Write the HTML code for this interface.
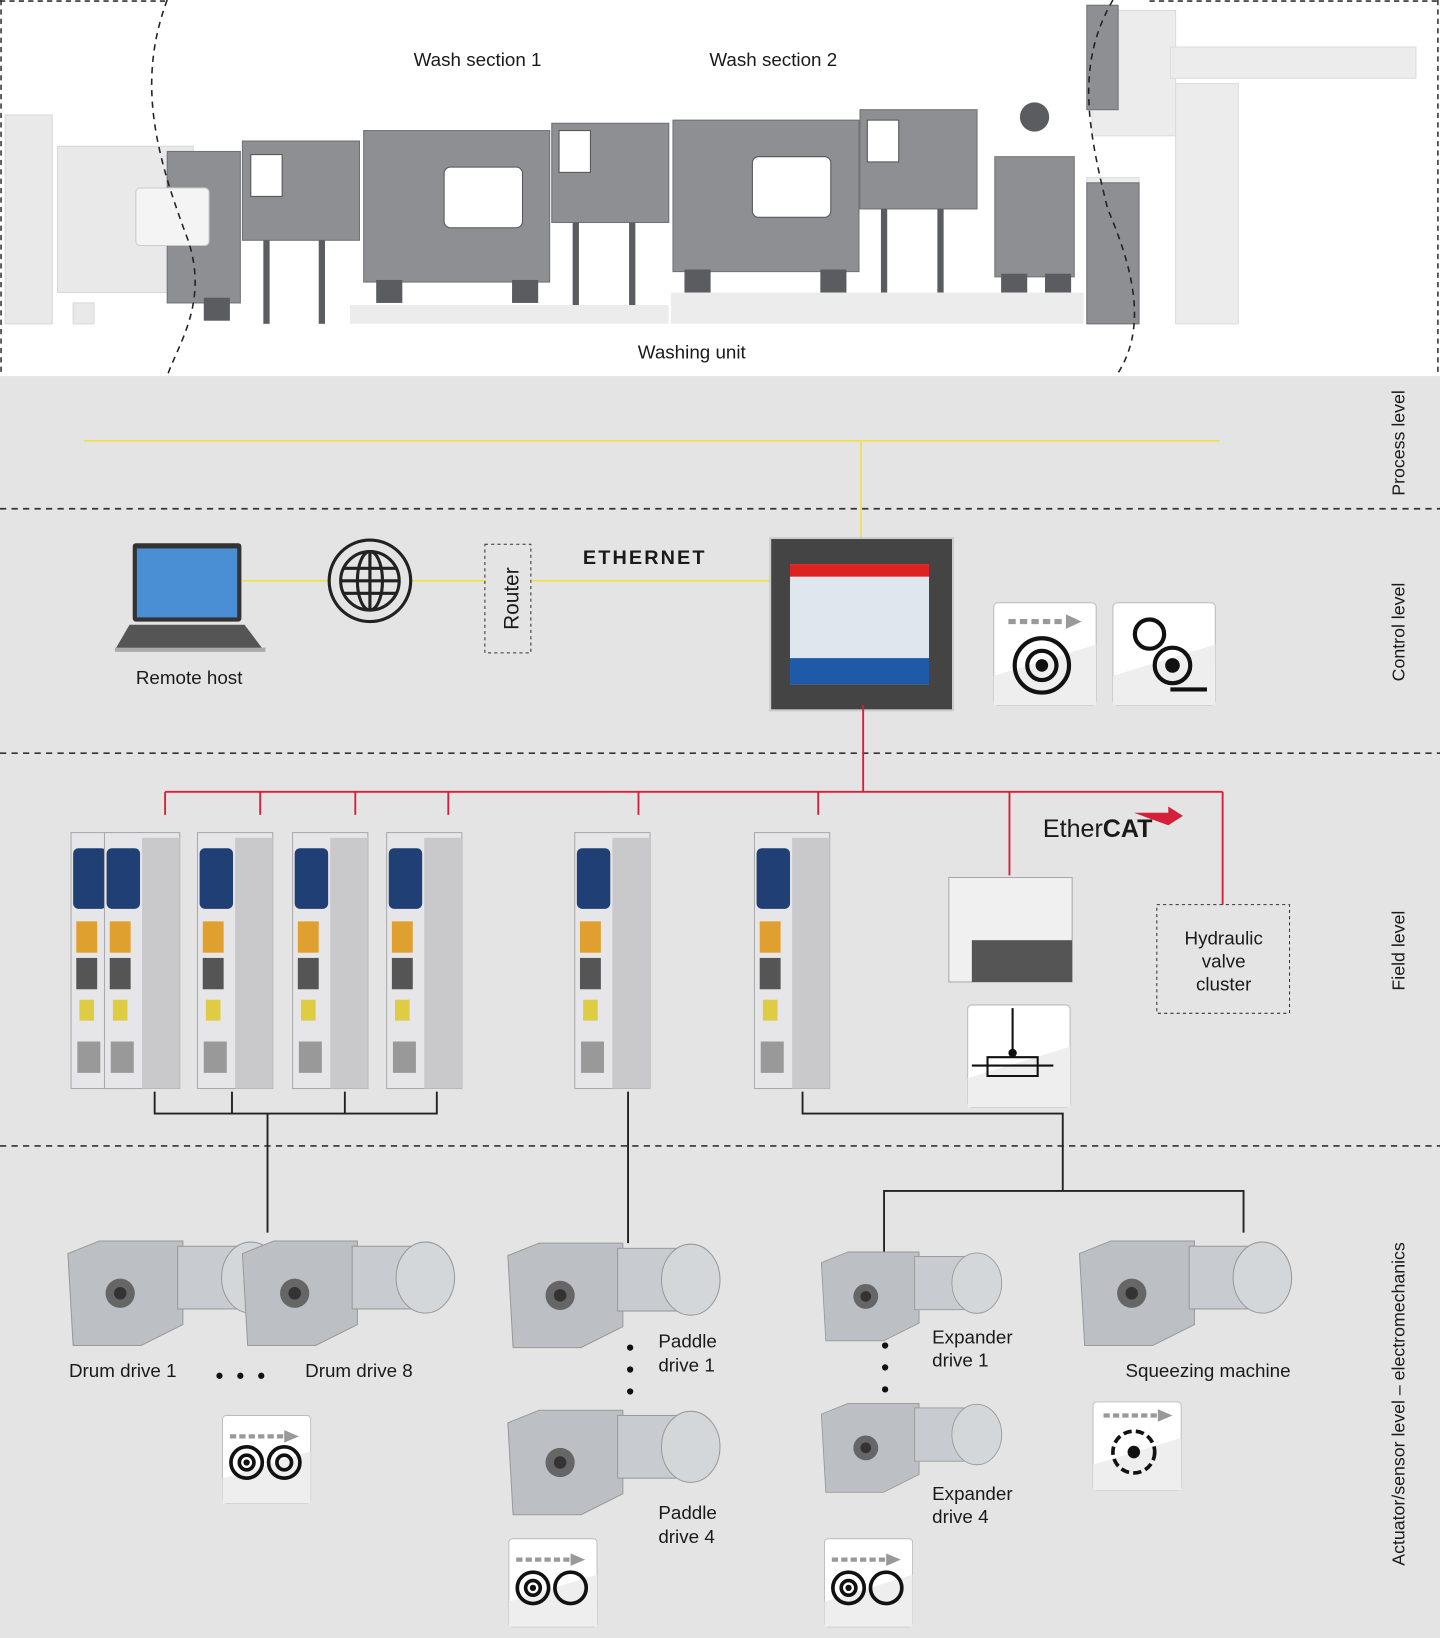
<!DOCTYPE html>
<html><head><meta charset="utf-8"><style>
html,body{margin:0;padding:0;background:#fff}
svg{display:block}
text{font-family:"Liberation Sans",sans-serif;fill:#1a1a1a}
</style></head><body>
<svg width="1440" height="1638" viewBox="0 0 1378 1568" preserveAspectRatio="none" xmlns="http://www.w3.org/2000/svg">
<rect x="0" y="0" width="1378" height="360" fill="#fff"/>
<rect x="0" y="360" width="1378" height="1208" fill="#e4e4e4"/>
<!-- top border dashes -->
<path d="M1 0V358 M1376 0V358 M0 1H160" stroke="#333" stroke-width="1.5" stroke-dasharray="5,4" fill="none"/>
<path d="M1100 1H1378" stroke="#333" stroke-width="1.5" stroke-dasharray="5,4"/>
<!-- faded left machine -->
<g fill="#e9e9ea" stroke="#d8d8d8">
<rect x="5" y="110" width="45" height="200"/><rect x="55" y="140" width="130" height="140"/><rect x="70" y="290" width="20" height="20"/>
</g>
<!-- faded right -->
<g fill="#ececec" stroke="#dcdcdc">
<rect x="1045" y="10" width="80" height="120"/><rect x="1120" y="45" width="235" height="30"/><rect x="1125" y="80" width="60" height="230"/><rect x="1040" y="170" width="50" height="140"/>
</g>
<!-- main machines -->
<g fill="#8d8f93" stroke="#6f7175">
<rect x="160" y="145" width="70" height="145"/>
<rect x="232" y="135" width="112" height="95"/>
<rect x="348" y="125" width="178" height="145"/>
<rect x="528" y="118" width="112" height="95"/>
<rect x="644" y="115" width="178" height="145"/>
<rect x="823" y="105" width="112" height="95"/>
<rect x="952" y="150" width="76" height="115"/>
<rect x="1040" y="175" width="50" height="135"/>
<rect x="1040" y="5" width="30" height="100"/>
</g>
<g fill="#5a5c60">
<rect x="195" y="285" width="25" height="22"/><rect x="360" y="268" width="25" height="22"/><rect x="490" y="268" width="25" height="22"/>
<rect x="655" y="258" width="25" height="22"/><rect x="785" y="258" width="25" height="22"/><rect x="958" y="262" width="25" height="20"/><rect x="1000" y="262" width="25" height="20"/>
<rect x="252" y="230" width="6" height="80"/><rect x="305" y="230" width="6" height="80"/><rect x="548" y="213" width="6" height="80"/><rect x="602" y="213" width="6" height="80"/>
<rect x="843" y="200" width="6" height="80"/><rect x="897" y="200" width="6" height="80"/>
<circle cx="990" cy="112" r="14"/>
</g>
<g fill="#fff" stroke="#555">
<rect x="425" y="160" width="75" height="58" rx="6"/><rect x="720" y="150" width="75" height="58" rx="6"/>
<rect x="130" y="180" width="70" height="55" rx="4" fill="#f4f4f4" stroke="#ccc"/>
<rect x="240" y="148" width="30" height="40"/><rect x="535" y="125" width="30" height="40"/><rect x="830" y="115" width="30" height="40"/>
</g>
<rect x="335" y="292" width="305" height="18" fill="#ececec"/><rect x="642" y="280" width="395" height="30" fill="#ececec"/>
<path d="M160 0 C130 80 150 150 180 230 C200 290 170 330 160 360" stroke="#222" stroke-width="1.5" stroke-dasharray="6,5" fill="none"/>
<path d="M1065 0 C1030 60 1040 120 1060 200 C1090 270 1095 320 1068 360" stroke="#222" stroke-width="1.5" stroke-dasharray="6,5" fill="none"/>
<text x="457" y="63" font-size="18" text-anchor="middle">Wash section 1</text>
<text x="740" y="63" font-size="18" text-anchor="middle">Wash section 2</text>
<text x="662" y="343" font-size="18" text-anchor="middle">Washing unit</text>
<!-- level dashes -->
<g stroke="#333" stroke-width="1.6" stroke-dasharray="6,5"><path d="M0 487H1378M0 721H1378M0 1097H1378"/></g>
<g font-size="17">
<text transform="translate(1344 424) rotate(-90)" text-anchor="middle">Process level</text>
<text transform="translate(1344 605) rotate(-90)" text-anchor="middle">Control level</text>
<text transform="translate(1344 910) rotate(-90)" text-anchor="middle">Field level</text>
<text transform="translate(1344 1344) rotate(-90)" text-anchor="middle">Actuator/sensor level – electromechanics</text>
</g>
<!-- yellow -->
<g stroke="#f0e040" stroke-width="1.5" fill="none"><path d="M80 422H1167M824 422V517M232 556H315M393 556H465M509 556H738"/></g>
<!-- laptop -->
<rect x="127" y="520" width="104" height="75" rx="3" fill="#333"/><rect x="131" y="525" width="96" height="66" fill="#4a8fd4"/>
<path d="M124 598H234L252 622H110Z" fill="#555"/><rect x="110" y="620" width="144" height="4" fill="#aaa"/>
<text x="181" y="655" font-size="18" text-anchor="middle">Remote host</text>
<!-- globe -->
<g stroke="#222" stroke-width="3" fill="none"><circle cx="354" cy="556" r="39"/><circle cx="354" cy="556" r="28"/><ellipse cx="354" cy="556" rx="12" ry="28"/><path d="M326 556H382M329 544H379M329 568H379M354 528V584"/></g>
<rect x="464" y="521" width="44" height="104" fill="none" stroke="#333" stroke-dasharray="3,3"/>
<text transform="translate(496 573) rotate(-90)" font-size="20" text-anchor="middle">Router</text>
<text x="617" y="540" font-size="19" font-weight="bold" letter-spacing="2" text-anchor="middle">ETHERNET</text>
<!-- HMI -->
<rect x="737" y="515" width="175" height="165" fill="#444" stroke="#ccc" stroke-width="2"/>
<rect x="756" y="540" width="133" height="115" fill="#dfe6ee"/><rect x="756" y="540" width="133" height="12" fill="#d22"/>
<rect x="756" y="630" width="133" height="25" fill="#1e5aa8"/>
<!-- icons -->
<defs>
<g id="ic"><rect x="0" y="0" width="98" height="98" rx="4" fill="#fff" stroke="#bbb"/><path d="M0 70L98 40V98H0Z" fill="#eee"/></g>
</defs>
<use href="#ic" x="951" y="577"/><use href="#ic" x="1065" y="577"/>
<g stroke="#111" stroke-width="4" fill="none"><circle cx="997" cy="637" r="26"/><circle cx="997" cy="637" r="14"/><circle cx="1100" cy="607" r="14"/><circle cx="1122" cy="637" r="17"/><path d="M1120 660H1155"/></g>
<circle cx="997" cy="637" r="6" fill="#111"/><circle cx="1122" cy="637" r="7" fill="#111"/>
<path d="M965 595H1020" stroke="#999" stroke-width="5" stroke-dasharray="7,4"/><path d="M1020 588L1035 595L1020 602Z" fill="#999"/>
<!-- red -->
<g stroke="#d4203a" stroke-width="1.8" fill="none"><path d="M826 675V758M158 758H1170M158 758V780M249 758V780M340 758V780M429 758V780M611 758V780M783 758V780M966 758V838M1170 758V866"/></g>
<text x="998" y="801" font-size="24">Ether<tspan font-weight="bold">CAT</tspan></text>
<path d="M1085 778H1118L1118 772L1132 781L1118 790Z" fill="#d4203a"/>
<rect x="1107" y="866" width="127" height="104" fill="none" stroke="#333" stroke-dasharray="3,3"/>
<text x="1171" y="904" font-size="18" text-anchor="middle">Hydraulic</text><text x="1171" y="926" font-size="18" text-anchor="middle">valve</text><text x="1171" y="948" font-size="18" text-anchor="middle">cluster</text>
<!-- drives -->
<defs><g id="dr"><rect x="0" y="0" width="72" height="245" fill="#e6e6e8" stroke="#aaa"/><rect x="36" y="5" width="36" height="240" fill="#c9c9cc"/><rect x="2" y="15" width="32" height="58" rx="5" fill="#1f3f75"/><rect x="5" y="85" width="20" height="30" fill="#e0a030"/><rect x="5" y="120" width="20" height="30" fill="#555"/><rect x="8" y="160" width="14" height="20" fill="#ddcc44"/><rect x="6" y="200" width="22" height="30" fill="#999"/></g></defs>
<use href="#dr" x="68" y="797"/><use href="#dr" x="100" y="797"/><use href="#dr" x="189" y="797"/><use href="#dr" x="280" y="797"/><use href="#dr" x="370" y="797"/><use href="#dr" x="550" y="797"/><use href="#dr" x="722" y="797"/>
<rect x="908" y="840" width="118" height="100" fill="#f0f0f0" stroke="#aaa"/><rect x="930" y="900" width="96" height="40" fill="#555"/>
<use href="#ic" x="926" y="962" transform="translate(0 0)"/>
<g stroke="#111" stroke-width="2" fill="none"><path d="M969 965V1010M930 1020H1008M945 1012H993V1030H945Z"/></g><circle cx="969" cy="1008" r="4" fill="#111"/>
<!-- black connectors -->
<g stroke="#222" stroke-width="1.8" fill="none"><path d="M148 1045V1066H418V1045M222 1045V1066M330 1045V1066M256 1066V1180M601 1045V1190M768 1045V1066H1017V1140H846V1200M1017 1140H1190V1180"/></g>
<!-- motors -->
<defs><g id="mo"><path d="M0 22L30 10H110L110 90L70 110H5Z" fill="#bcc0c4" stroke="#999"/><rect x="105" y="15" width="70" height="60" fill="#c8ccd0" stroke="#999"/><ellipse cx="175" cy="45" rx="28" ry="34" fill="#d4d7da" stroke="#999"/><circle cx="50" cy="60" r="14" fill="#666"/><circle cx="50" cy="60" r="6" fill="#333"/></g></defs>
<use href="#mo" x="65" y="1178"/><use href="#mo" x="232" y="1178"/><use href="#mo" x="486" y="1180"/><use href="#mo" x="486" y="1340"/>
<use href="#mo" x="786" y="1190" transform="translate(786 1190) scale(0.85) translate(-786 -1190)"/><use href="#mo" x="786" y="1335" transform="translate(786 1335) scale(0.85) translate(-786 -1335)"/><use href="#mo" x="1033" y="1178"/>
<g font-size="18">
<text x="66" y="1318">Drum drive 1</text><text x="292" y="1318">Drum drive 8</text>
<text x="630" y="1290">Paddle</text><text x="630" y="1313">drive 1</text>
<text x="630" y="1454">Paddle</text><text x="630" y="1477">drive 4</text>
<text x="892" y="1286">Expander</text><text x="892" y="1308">drive 1</text>
<text x="892" y="1436">Expander</text><text x="892" y="1458">drive 4</text>
<text x="1077" y="1318">Squeezing machine</text>
</g>
<g fill="#111"><circle cx="210" cy="1317" r="3"/><circle cx="230" cy="1317" r="3"/><circle cx="250" cy="1317" r="3"/>
<circle cx="603" cy="1290" r="3"/><circle cx="603" cy="1311" r="3"/><circle cx="603" cy="1332" r="3"/>
<circle cx="847" cy="1288" r="3"/><circle cx="847" cy="1309" r="3"/><circle cx="847" cy="1330" r="3"/></g>
<!-- bottom icons -->
<g transform="translate(213 1355) scale(0.86)"><use href="#ic"/></g>
<g transform="translate(487 1473) scale(0.86)"><use href="#ic"/></g>
<g transform="translate(789 1473) scale(0.86)"><use href="#ic"/></g>
<g transform="translate(1046 1342) scale(0.86)"><use href="#ic"/></g>
<g stroke="#111" stroke-width="3.5" fill="none">
<circle cx="236" cy="1400" r="15"/><circle cx="272" cy="1400" r="15"/><circle cx="236" cy="1400" r="7"/><circle cx="272" cy="1400" r="7"/>
<circle cx="510" cy="1520" r="15"/><circle cx="546" cy="1520" r="15"/><circle cx="510" cy="1520" r="7"/>
<circle cx="812" cy="1520" r="15"/><circle cx="848" cy="1520" r="15"/><circle cx="812" cy="1520" r="7"/>
<circle cx="1085" cy="1390" r="20" stroke-dasharray="8,4"/></g>
<g fill="#111"><circle cx="1085" cy="1390" r="6"/><circle cx="236" cy="1400" r="3"/><circle cx="510" cy="1520" r="3"/><circle cx="812" cy="1520" r="3"/></g>
<g stroke="#999" stroke-width="4" stroke-dasharray="6,3"><path d="M220 1375H272M494 1493H546M796 1493H848M1056 1355H1108"/></g>
<g fill="#999"><path d="M272 1369L286 1375L272 1381ZM546 1487L560 1493L546 1499ZM848 1487L862 1493L848 1499ZM1108 1349L1122 1355L1108 1361Z"/></g>
</svg>
</body></html>
